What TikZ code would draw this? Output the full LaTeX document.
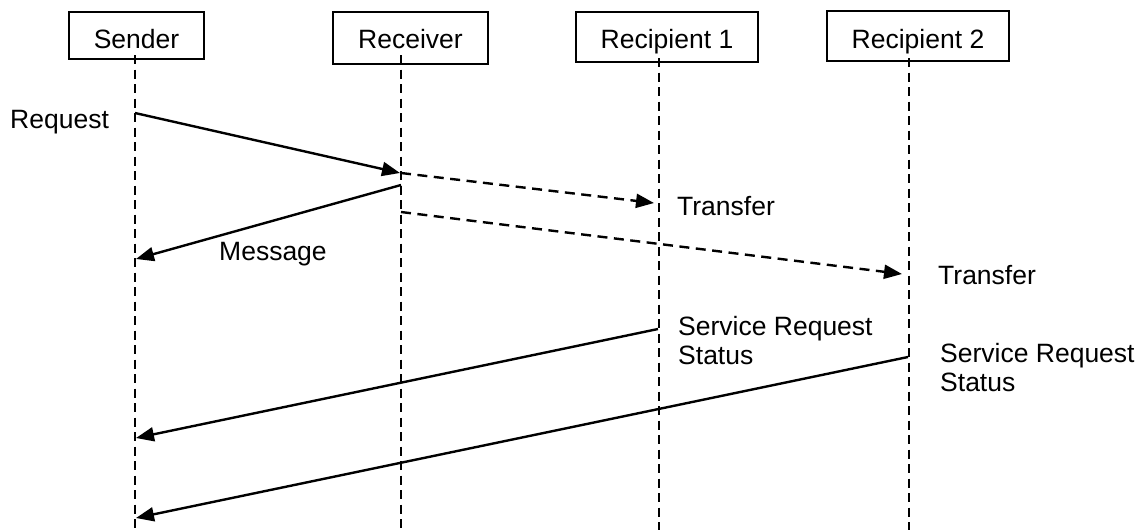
\documentclass[tikz,border=0pt]{standalone}
\usepackage{fontspec}
\setmainfont{Liberation Sans}
\usetikzlibrary{arrows.meta}

\begin{document}
\begin{tikzpicture}[x=1pt,y=-1pt,
  every node/.style={font=\fontsize{26.5}{29}\selectfont},
  actor/.style={draw, line width=1.8pt, inner sep=0pt, text depth=0pt},
  lifeline/.style={line width=2pt, dash pattern=on 9pt off 5.5pt},
  msg/.style={line width=2.4pt, -{Triangle[length=18pt,width=14pt]}},
  dmsg/.style={msg, dash pattern=on 10pt off 6.5pt},
  lbl/.style={anchor=base west, inner sep=0pt, align=left}]
\useasboundingbox (0,0) rectangle (1139,530);

% participants
\node[actor, minimum width=135pt, minimum height=47pt, text height=25pt] (snd) at (136.5,35.5) {Sender};
\node[actor, minimum width=155pt, minimum height=52pt, text height=20pt] (rcv) at (410.5,38) {Receiver};
\node[actor, minimum width=182pt, minimum height=50pt, text height=22pt] (rc1) at (667,37) {Recipient 1};
\node[actor, minimum width=182pt, minimum height=50pt, text height=24pt] (rc2) at (918,36) {Recipient 2};

% lifelines
\coordinate (snd-top) at (135,55);  \coordinate (snd-bot) at (135,530);
\coordinate (rcv-top) at (401,55);  \coordinate (rcv-bot) at (401,530);
\coordinate (rc1-top) at (659,58);  \coordinate (rc1-bot) at (659,530);
\coordinate (rc2-top) at (909,58);  \coordinate (rc2-bot) at (909,530);
\draw[lifeline] (snd-top) -- (snd-bot);
\draw[lifeline] (rcv-top) -- (rcv-bot);
\draw[lifeline] (rc1-top) -- (rc1-bot);
\draw[lifeline] (rc2-top) -- (rc2-bot);

% message end points
\coordinate (req-a) at (135,113);  \coordinate (req-b) at (400,173);
\coordinate (tr1-a) at (401,173);  \coordinate (tr1-b) at (654,203);
\coordinate (msg-a) at (401,185);  \coordinate (msg-b) at (136,259);
\coordinate (tr2-a) at (401,212);  \coordinate (tr2-b) at (902,274);
\coordinate (st1-a) at (658,329);  \coordinate (st1-b) at (136,438);
\coordinate (st2-a) at (908,357);  \coordinate (st2-b) at (136,518);

\draw[msg]  (req-a) -- (req-b);
\draw[dmsg] (tr1-a) -- (tr1-b);
\draw[msg]  (msg-a) -- (msg-b);
\draw[dmsg] (tr2-a) -- (tr2-b);
\draw[msg]  (st1-a) -- (st1-b);
\draw[msg]  (st2-a) -- (st2-b);

% labels (base anchor sits on the last line of a two-line label)
\node[lbl] (l-req) at (10,128) {Request};
\node[lbl] (l-tr1) at (677,215) {Transfer};
\node[lbl] (l-msg) at (219,260) {Message};
\node[lbl] (l-tr2) at (938,284) {Transfer};
\node[lbl] (l-st1) at (678,364) {Service Request\\Status};
\node[lbl] (l-st2) at (940,391) {Service Request\\Status};
\end{tikzpicture}
\end{document}
